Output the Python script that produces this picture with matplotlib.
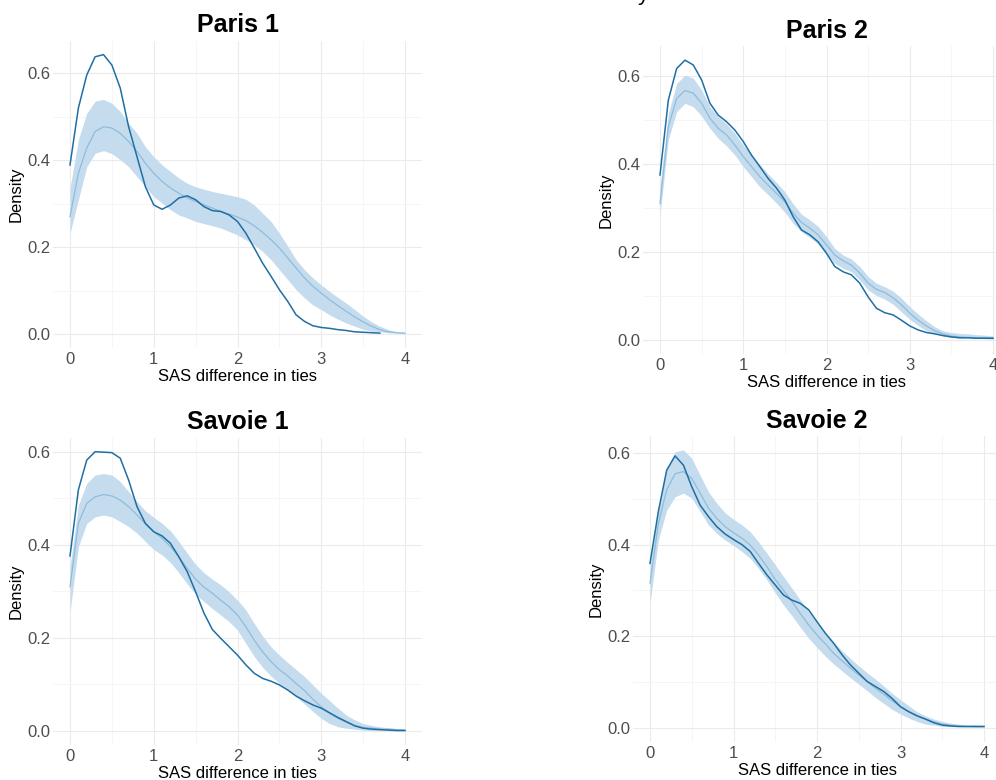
import numpy as np
import matplotlib.pyplot as plt
from matplotlib.ticker import FormatStrFormatter

plt.rcParams['font.family'] = ['Liberation Sans', 'DejaVu Sans']

x = [0.0, 0.1, 0.2, 0.3, 0.4, 0.5, 0.6, 0.7, 0.8, 0.9,
     1.0, 1.1, 1.2, 1.3, 1.4, 1.5, 1.6, 1.7, 1.8, 1.9,
     2.0, 2.1, 2.2, 2.3, 2.4, 2.5, 2.6, 2.7, 2.8, 2.9,
     3.0, 3.1, 3.2, 3.3, 3.4, 3.5, 3.6, 3.7, 3.8, 3.9, 4.0]

nan = float('nan')

# Paris 1
paris1_obs = [0.389, 0.52, 0.596, 0.638, 0.643, 0.619, 0.566, 0.477, 0.408, 0.339,
              0.297, 0.287, 0.297, 0.313, 0.318, 0.309, 0.293, 0.284, 0.282, 0.274,
              0.259, 0.232, 0.198, 0.163, 0.133, 0.102, 0.075, 0.044, 0.029, 0.019,
              0.015, 0.013, 0.010, 0.008, 0.005, 0.004, 0.003, 0.002, nan, nan, nan]
paris1_mean = [0.27, 0.37, 0.428, 0.466, 0.477, 0.474, 0.462, 0.443, 0.42, 0.393,
               0.37, 0.351, 0.336, 0.324, 0.313, 0.305, 0.297, 0.29, 0.282, 0.276,
               0.269, 0.261, 0.249, 0.234, 0.217, 0.198, 0.175, 0.152, 0.129, 0.11,
               0.094, 0.079, 0.065, 0.052, 0.039, 0.028, 0.018, 0.01, 0.005, 0.003, 0.002]
paris1_hi = [0.336, 0.447, 0.508, 0.536, 0.54, 0.531, 0.512, 0.485, 0.462, 0.431,
             0.408, 0.389, 0.374, 0.359, 0.347, 0.339, 0.333, 0.328, 0.324, 0.32,
             0.316, 0.31, 0.297, 0.278, 0.259, 0.232, 0.202, 0.171, 0.148, 0.129,
             0.113, 0.098, 0.084, 0.071, 0.056, 0.041, 0.028, 0.018, 0.01, 0.005, 0.003]
paris1_lo = [0.232, 0.309, 0.385, 0.416, 0.422, 0.415, 0.401, 0.385, 0.362, 0.339,
             0.316, 0.301, 0.286, 0.274, 0.267, 0.259, 0.254, 0.249, 0.244, 0.236,
             0.228, 0.217, 0.205, 0.19, 0.171, 0.148, 0.125, 0.102, 0.083, 0.067,
             0.056, 0.044, 0.034, 0.025, 0.018, 0.011, 0.007, 0.005, 0.003, 0.002, 0.001]

# Paris 2
paris2_obs = [0.375, 0.545, 0.617, 0.636, 0.625, 0.591, 0.538, 0.511, 0.496, 0.477,
              0.451, 0.42, 0.394, 0.367, 0.345, 0.318, 0.28, 0.25, 0.239, 0.223,
              0.197, 0.167, 0.155, 0.148, 0.129, 0.098, 0.072, 0.062, 0.057, 0.045,
              0.032, 0.023, 0.017, 0.014, 0.01, 0.007, 0.005, 0.005, 0.004, 0.004, 0.004]
paris2_mean = [0.31, 0.485, 0.549, 0.567, 0.561, 0.538, 0.504, 0.481, 0.466, 0.443,
               0.417, 0.394, 0.371, 0.352, 0.333, 0.314, 0.288, 0.267, 0.254, 0.239,
               0.216, 0.193, 0.18, 0.17, 0.152, 0.129, 0.115, 0.108, 0.096, 0.08,
               0.061, 0.045, 0.032, 0.021, 0.014, 0.009, 0.007, 0.006, 0.005, 0.005, 0.004]
paris2_hi = [0.348, 0.515, 0.583, 0.602, 0.595, 0.568, 0.53, 0.508, 0.491, 0.47,
             0.443, 0.42, 0.398, 0.377, 0.358, 0.337, 0.309, 0.286, 0.273, 0.258,
             0.235, 0.208, 0.193, 0.184, 0.167, 0.144, 0.129, 0.121, 0.111, 0.095,
             0.076, 0.059, 0.044, 0.03, 0.021, 0.017, 0.015, 0.014, 0.012, 0.011, 0.009]
paris2_lo = [0.284, 0.455, 0.519, 0.538, 0.53, 0.509, 0.481, 0.458, 0.441, 0.42,
             0.394, 0.371, 0.348, 0.33, 0.311, 0.29, 0.265, 0.246, 0.233, 0.218,
             0.195, 0.174, 0.163, 0.155, 0.136, 0.114, 0.101, 0.093, 0.081, 0.064,
             0.047, 0.033, 0.021, 0.014, 0.009, 0.006, 0.005, 0.005, 0.004, 0.003, 0.002]

# Savoie 1
savoie1_obs = [0.376, 0.518, 0.582, 0.6, 0.599, 0.598, 0.586, 0.539, 0.482, 0.446,
               0.428, 0.419, 0.403, 0.374, 0.342, 0.299, 0.253, 0.218, 0.199, 0.181,
               0.163, 0.142, 0.124, 0.113, 0.107, 0.099, 0.088, 0.075, 0.065, 0.056,
               0.049, 0.039, 0.029, 0.02, 0.011, 0.006, 0.004, 0.003, 0.002, 0.001, 0.001]
savoie1_mean = [0.31, 0.446, 0.489, 0.503, 0.508, 0.505, 0.496, 0.482, 0.464, 0.445,
                0.428, 0.414, 0.396, 0.374, 0.349, 0.326, 0.309, 0.296, 0.281, 0.267,
                0.249, 0.224, 0.195, 0.17, 0.149, 0.132, 0.118, 0.102, 0.087, 0.068,
                0.052, 0.038, 0.027, 0.019, 0.012, 0.008, 0.006, 0.004, 0.004, 0.003, 0.002]
savoie1_hi = [0.353, 0.485, 0.532, 0.55, 0.553, 0.55, 0.536, 0.514, 0.493, 0.473,
              0.459, 0.446, 0.43, 0.407, 0.382, 0.358, 0.34, 0.326, 0.314, 0.299,
              0.281, 0.26, 0.231, 0.204, 0.181, 0.163, 0.147, 0.132, 0.117, 0.099,
              0.081, 0.065, 0.049, 0.034, 0.024, 0.016, 0.012, 0.009, 0.007, 0.005, 0.004]
savoie1_lo = [0.256, 0.396, 0.446, 0.46, 0.464, 0.46, 0.45, 0.439, 0.425, 0.407,
              0.39, 0.378, 0.362, 0.34, 0.316, 0.294, 0.278, 0.263, 0.249, 0.235,
              0.217, 0.188, 0.16, 0.137, 0.118, 0.102, 0.089, 0.074, 0.058, 0.042,
              0.027, 0.016, 0.009, 0.006, 0.004, 0.002, 0.001, 0.001, 0.001, 0.001, 0.001]

# Savoie 2
savoie2_obs = [0.359, 0.472, 0.562, 0.593, 0.573, 0.526, 0.486, 0.461, 0.439, 0.423,
               0.411, 0.40, 0.385, 0.359, 0.334, 0.312, 0.29, 0.279, 0.272, 0.258,
               0.232, 0.207, 0.185, 0.16, 0.138, 0.12, 0.102, 0.091, 0.08, 0.065,
               0.047, 0.036, 0.027, 0.02, 0.012, 0.007, 0.005, 0.004, 0.004, 0.004, 0.004]
savoie2_mean = [0.316, 0.446, 0.519, 0.554, 0.559, 0.544, 0.512, 0.479, 0.457, 0.439,
                0.426, 0.414, 0.399, 0.377, 0.352, 0.324, 0.30, 0.276, 0.25, 0.225,
                0.203, 0.184, 0.163, 0.147, 0.131, 0.116, 0.102, 0.087, 0.074, 0.06,
                0.047, 0.036, 0.027, 0.02, 0.014, 0.009, 0.007, 0.005, 0.004, 0.004, 0.004]
savoie2_hi = [0.352, 0.482, 0.566, 0.602, 0.606, 0.588, 0.551, 0.515, 0.49, 0.469,
              0.455, 0.443, 0.428, 0.406, 0.381, 0.356, 0.33, 0.305, 0.279, 0.254,
              0.23, 0.208, 0.187, 0.169, 0.152, 0.136, 0.121, 0.107, 0.092, 0.076,
              0.062, 0.049, 0.036, 0.027, 0.02, 0.015, 0.011, 0.009, 0.007, 0.007, 0.006]
savoie2_lo = [0.272, 0.41, 0.475, 0.504, 0.512, 0.501, 0.472, 0.443, 0.424, 0.41,
              0.398, 0.385, 0.37, 0.348, 0.323, 0.295, 0.268, 0.245, 0.22, 0.196,
              0.176, 0.157, 0.14, 0.125, 0.11, 0.096, 0.082, 0.067, 0.054, 0.041,
              0.031, 0.022, 0.015, 0.009, 0.007, 0.004, 0.004, 0.003, 0.003, 0.002, 0.002]

titles = ["Paris 1", "Paris 2", "Savoie 1", "Savoie 2"]
obs = [paris1_obs, paris2_obs, savoie1_obs, savoie2_obs]
means = [paris1_mean, paris2_mean, savoie1_mean, savoie2_mean]
his = [paris1_hi, paris2_hi, savoie1_hi, savoie2_hi]
los = [paris1_lo, paris2_lo, savoie1_lo, savoie2_lo]

W, H = 996, 780
# pixel anchors: x=0, x=4, y=0, y=0.6 for each panel
anchors = [(70, 405, 334, 73.3),
           (660, 993, 340, 76),
           (70, 405, 731, 451.7),
           (650, 984, 728.3, 452.7)]

DARK = '#1f6fa3'
BAND = '#c5dcee'
MEAN = '#8fbcda'

fig = plt.figure(figsize=(W / 100, H / 100), dpi=100)

for i in range(4):
    px0, px4, py0, py6 = anchors[i]
    ymax = np.nanmax([np.nanmax(obs[i]), np.nanmax(his[i])])
    ylo, yhi = -0.05 * ymax, 1.05 * ymax
    sx = (px4 - px0) / 4
    sy = (py0 - py6) / 0.6
    left = px0 - 0.2 * sx
    right = px4 + 0.2 * sx
    top = py0 - yhi * sy
    bot = py0 - ylo * sy
    ax = fig.add_axes([left / W, 1 - bot / H, (right - left) / W, (bot - top) / H])

    ax.fill_between(x, los[i], his[i], color=BAND, lw=0, zorder=2)
    ax.plot(x, means[i], color=MEAN, lw=0.9, zorder=3)
    ax.plot(x, obs[i], color=DARK, lw=1.1, zorder=4)

    ax.set_xlim(-0.2, 4.2)
    ax.set_ylim(ylo, yhi)
    ax.set_xticks([0, 1, 2, 3, 4])
    ax.set_xticks([0.5, 1.5, 2.5, 3.5], minor=True)
    ax.set_yticks([0.0, 0.2, 0.4, 0.6])
    ax.set_yticks([0.1, 0.3, 0.5], minor=True)
    ax.yaxis.set_major_formatter(FormatStrFormatter('%.1f'))
    ax.grid(which='major', color='#ebebeb', lw=0.8, zorder=0)
    ax.grid(which='minor', color='#f4f4f4', lw=0.6, zorder=0)
    ax.set_axisbelow(True)
    for s in ax.spines.values():
        s.set_visible(False)
    ax.tick_params(which='both', length=0, labelsize=12, labelcolor='#4d4d4d')
    ax.tick_params(axis='x', pad=3)
    ax.tick_params(axis='y', pad=2)
    ax.set_xlabel("SAS difference in ties", fontsize=12, labelpad=1)
    ax.set_ylabel("Density", fontsize=12, labelpad=3)
    ax.set_title(titles[i], fontsize=18, fontweight='bold', pad=6)

# fragment of a cut-off line of text above the right column
fig.text(643 / W, 1.0, "y", fontsize=16, ha='center', va='baseline')

fig.savefig("out.png", dpi=100, facecolor='white')
